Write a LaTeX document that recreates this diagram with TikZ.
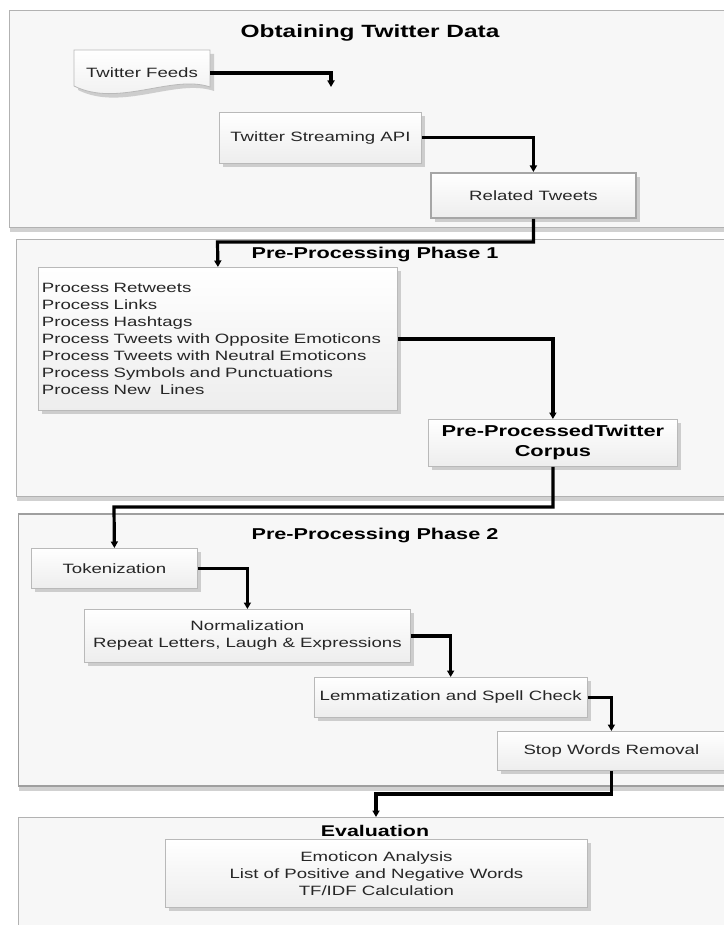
\documentclass[tikz,border=0pt]{standalone}
\usepackage{fontspec}
\setmainfont{Liberation Sans}[FakeStretch=1.38]
\usetikzlibrary{arrows.meta,shadows,calc}
\begin{document}
\begin{tikzpicture}[x=1pt,y=-1pt,
  every node/.style={text=black!85, font=\fontsize{13.5}{17}\selectfont},
  panel/.style={draw=gray!60, line width=0.9pt, fill=gray!6, anchor=north west, inner sep=0pt,
     drop shadow={shadow xshift=1pt, shadow yshift=-5pt, opacity=0.45, fill=gray!80}},
  box/.style={draw=gray!55, line width=0.8pt, top color=white, bottom color=gray!14, anchor=north west, inner sep=2pt,
     drop shadow={shadow xshift=4pt, shadow yshift=-4pt, opacity=0.35, fill=gray}},
  ttl/.style={font=\fontsize{15.7}{18}\selectfont\bfseries, text=black},
  arr/.style={line width=3.2pt, black, -{Triangle[length=6.5pt,width=7pt]}}]
\useasboundingbox (0,0) rectangle (723,925);
\fill[white] (0,0) rectangle (723,925);
% panels
\node[panel, minimum width=740pt, minimum height=217pt] (p1) at (9,10) {};
\node[panel, minimum width=740pt, minimum height=257pt] (p2) at (16,239) {};
\node[panel, minimum width=740pt, minimum height=272pt, draw=gray!75, line width=1.8pt] (p3) at (17.5,513) {};
\node[panel, minimum width=740pt, minimum height=130pt] (p4) at (17.5,817) {};
% titles
\node[ttl, font=\fontsize{17.7}{20}\selectfont\bfseries] (t1) at (370,33) {Obtaining Twitter Data};
\node[ttl] (t2) at (375,254) {Pre-Processing Phase 1};
\node[ttl] (t3) at (375,535) {Pre-Processing Phase 2};
\node[ttl, font=\fontsize{15.5}{18}\selectfont\bfseries] (t4) at (375,831) {Evaluation};
% document shape
\path[draw=gray!55, line width=0.8pt, top color=white, bottom color=gray!14,
  drop shadow={shadow xshift=4pt, shadow yshift=-4pt, opacity=0.35, fill=gray}]
  (74,50) -- (210,50) -- (210,87) .. controls (172,74) and (118,108) .. (74,86) -- cycle;
\node[minimum width=136pt, minimum height=46pt, inner sep=0pt] (feeds) at (142,73) {Twitter Feeds};
\coordinate (fe) at (331,87);
% boxes
\node[box, minimum width=202pt, minimum height=51pt] (api) at (219,112) {Twitter Streaming API};
\node[box, minimum width=205pt, minimum height=45pt, draw=gray!70, line width=1.8pt] (rt) at (430,172) {Related Tweets};
\node[box, text width=352pt, inner xsep=3.5pt, minimum height=143pt, align=left] (proc) at (38,267)
  {Process Retweets\\Process Links\\Process Hashtags\\Process Tweets with Opposite Emoticons\\Process Tweets with Neutral Emoticons\\Process Symbols and Punctuations\\Process New\ \ Lines};
\node[box, minimum width=249pt, minimum height=47pt, align=center, font=\fontsize{15.8}{20}\selectfont\bfseries, text=black] (corp) at (428,419) {Pre-ProcessedTwitter\\Corpus};
\node[box, minimum width=166pt, minimum height=40pt] (tok) at (31,548) {Tokenization};
\node[box, minimum width=326pt, minimum height=53pt, align=center] (norm) at (84,609) {Normalization\\Repeat Letters, Laugh \& Expressions};
\node[box, minimum width=273.5pt, minimum height=40pt] (lem) at (313.5,677) {Lemmatization and Spell Check};
\node[box, minimum width=228pt, minimum height=39pt] (stop) at (497,731) {Stop Words Removal};
\node[box, minimum width=422pt, minimum height=68pt, align=center] (eval) at (165,839) {Emoticon Analysis\\List of Positive and Negative Words\\TF/IDF Calculation};
% junctions
\coordinate (j1) at (217.5,242);
\coordinate (j2) at (114,507);
\coordinate (j3) at (376,794);
% connectors
\draw[arr] (feeds.east) -| (fe);
\draw[arr] (api.east) -| (rt.north);
\draw[arr] (rt.south) |- (j1) -- (proc.north);
\draw[arr] (proc.east) -| (corp.north);
\draw[arr] (corp.south) |- (j2) -- (tok.north);
\draw[arr] (tok.east) -| (norm.north);
\draw[arr] (norm.east) -| (lem.north);
\draw[arr] (lem.east) -| (stop.north);
\draw[arr] (stop.south) |- (j3) -- (j3 |- p4.north);
\end{tikzpicture}
\end{document}
